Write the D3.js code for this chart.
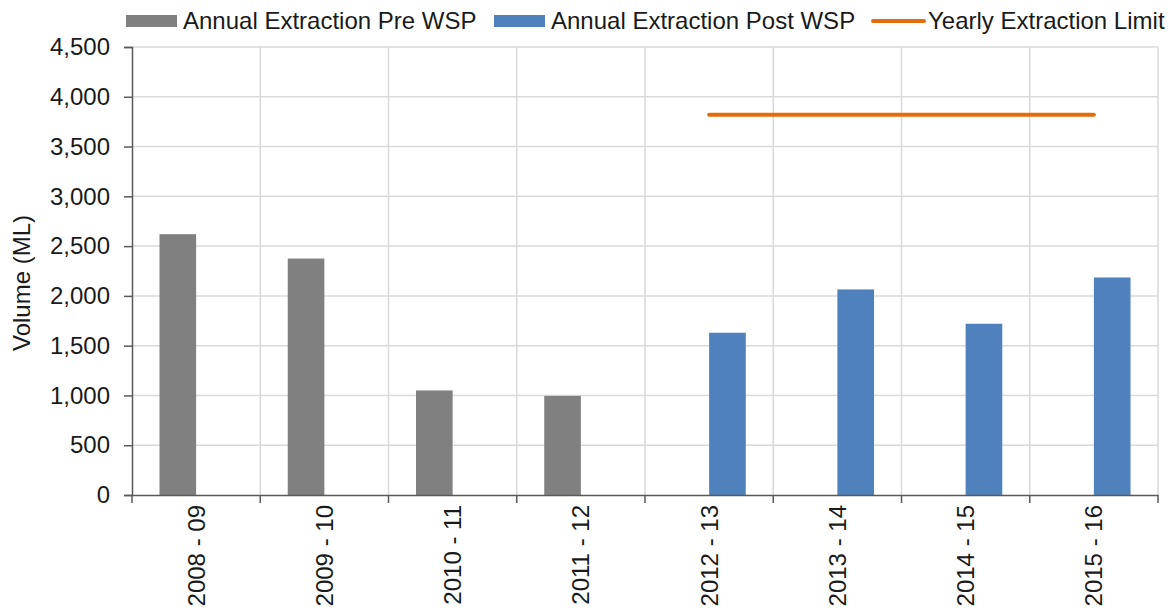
<!DOCTYPE html>
<html>
<head>
<meta charset="utf-8">
<script src="https://cdn.jsdelivr.net/npm/d3@7"></script>
<style>
  html, body { margin: 0; padding: 0; background: #fff; }
  svg { display: block; font-family: "Liberation Sans", Arial, sans-serif; }
</style>
</head>
<body>
<svg id="chart" width="1176" height="612"></svg>
<script>
const categories = ["2008 - 09", "2009 - 10", "2010 - 11", "2011 - 12", "2012 - 13", "2013 - 14", "2014 - 15", "2015 - 16"];
const preWSP = [2620, 2375, 1050, 995, null, null, null, null];
const postWSP = [null, null, null, null, 1630, 2065, 1720, 2185];
const extractionLimit = [null, null, null, null, 3820, 3820, 3820, 3820];
const yTicks = [0, 500, 1000, 1500, 2000, 2500, 3000, 3500, 4000, 4500];
const seriesNames = ["Annual Extraction Pre WSP", "Annual Extraction Post WSP", "Yearly Extraction Limit"];

const colors = { pre: "#808080", post: "#4f81bd", limit: "#e46c0a" };
const svg = d3.select("#chart");
const L = 132, R = 1158, T = 47, B = 495;
const fs = 24;

const x = d3.scaleBand().domain(categories).range([L, R]).padding(0);
const sub = d3.scaleBand().domain(["pre", "post"]).range([0, x.bandwidth()]).paddingInner(0).paddingOuter(0.75);
const y = d3.scaleLinear().domain([0, 4500]).range([B, T]);

// horizontal gridlines
svg.append("g").selectAll("line").data(yTicks.filter(d => d > 0)).join("line")
  .attr("x1", L).attr("x2", R)
  .attr("y1", d => y(d)).attr("y2", d => y(d))
  .attr("stroke", "#d9d9d9").attr("stroke-width", 1.5);
// vertical gridlines at category boundaries
const bounds = categories.map(c => x(c)).concat([R]).slice(1);
svg.append("g").selectAll("line").data(bounds).join("line")
  .attr("x1", d => d).attr("x2", d => d)
  .attr("y1", T).attr("y2", B)
  .attr("stroke", "#d9d9d9").attr("stroke-width", 1.5);

// bars
const barData = [];
categories.forEach((c, i) => {
  if (preWSP[i] != null) barData.push({ c, s: "pre", v: preWSP[i] });
  if (postWSP[i] != null) barData.push({ c, s: "post", v: postWSP[i] });
});
svg.append("g").selectAll("rect").data(barData).join("rect")
  .attr("x", d => x(d.c) + sub(d.s))
  .attr("width", sub.bandwidth())
  .attr("y", d => y(d.v))
  .attr("height", d => y(0) - y(d.v))
  .attr("fill", d => colors[d.s]);

// limit line
const lineData = categories.map((c, i) => ({ c, v: extractionLimit[i] })).filter(d => d.v != null);
svg.append("path").datum(lineData)
  .attr("d", d3.line().x(d => x(d.c) + x.bandwidth() / 2).y(d => y(d.v)))
  .attr("fill", "none").attr("stroke", colors.limit)
  .attr("stroke-width", 4).attr("stroke-linecap", "round");

// y axis
const yAxis = svg.append("g").attr("transform", `translate(${L},0)`)
  .call(d3.axisLeft(y).tickValues(yTicks).tickFormat(d3.format(",")).tickSize(8).tickPadding(14));
yAxis.select(".domain").attr("stroke", "#595959").attr("stroke-width", 1.5);
yAxis.selectAll(".tick line").attr("stroke", "#595959").attr("stroke-width", 1.5);
yAxis.selectAll(".tick text").attr("font-size", fs).attr("fill", "#1a1a1a")
  .attr("font-family", "Liberation Sans, Arial, sans-serif");

// x axis
const xAxis = svg.append("g").attr("transform", `translate(0,${B})`)
  .call(d3.axisBottom(x).tickSize(0).tickSizeOuter(0));
xAxis.select(".domain").attr("stroke", "#595959").attr("stroke-width", 1.5);
xAxis.selectAll(".tick text")
  .attr("font-size", fs).attr("fill", "#1a1a1a")
  .attr("font-family", "Liberation Sans, Arial, sans-serif")
  .attr("transform", "rotate(-90)")
  .attr("text-anchor", "end")
  .attr("x", -10).attr("y", 0).attr("dy", "0.35em");
// boundary tick marks below x axis
svg.append("g").selectAll("line").data([L].concat(bounds)).join("line")
  .attr("x1", d => d).attr("x2", d => d)
  .attr("y1", B).attr("y2", B + 8)
  .attr("stroke", "#595959").attr("stroke-width", 1.5);

// y title
svg.append("text")
  .attr("transform", `translate(30,${(T + B) / 2 + 12}) rotate(-90)`)
  .attr("text-anchor", "middle")
  .attr("font-size", fs).attr("fill", "#1a1a1a")
  .text("Volume (ML)");

// legend
const leg = svg.append("g");
const legItems = [
  { name: seriesNames[0], type: "rect", color: colors.pre, x: 126 },
  { name: seriesNames[1], type: "rect", color: colors.post, x: 494 },
  { name: seriesNames[2], type: "line", color: colors.limit, x: 871 }
];
legItems.forEach(it => {
  if (it.type === "rect") {
    leg.append("rect").attr("x", it.x).attr("y", 15).attr("width", 51).attr("height", 12).attr("fill", it.color);
  } else {
    leg.append("line").attr("x1", it.x + 2).attr("x2", it.x + 53).attr("y1", 21).attr("y2", 21)
      .attr("stroke", it.color).attr("stroke-width", 4).attr("stroke-linecap", "round");
  }
  leg.append("text").attr("x", it.x + 57).attr("y", 29)
    .attr("font-size", fs).attr("fill", "#1a1a1a").text(it.name);
});
</script>
</body>
</html>
